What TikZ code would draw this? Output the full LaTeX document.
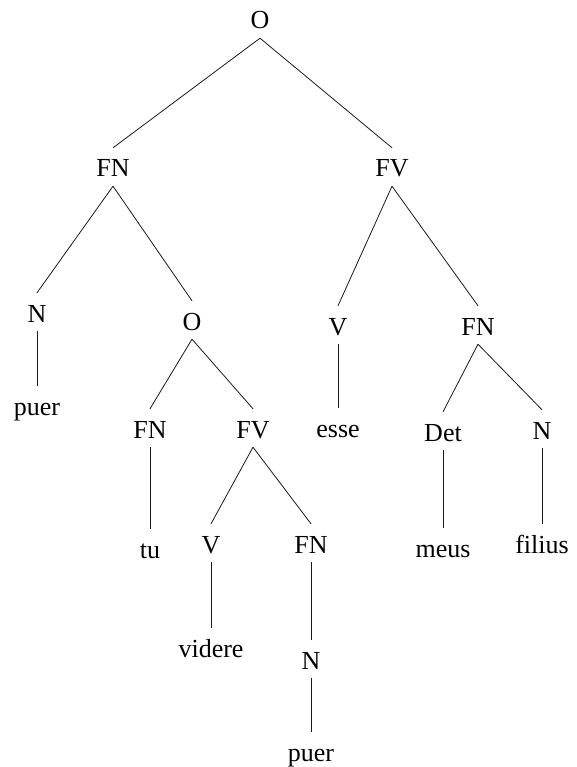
\documentclass[tikz,border=0pt]{standalone}
\usepackage{fontspec}
\setmainfont{Liberation Serif}
\usepackage{tikz}
\definecolor{cEdge}{HTML}{1A1A1A}
\tikzset{
  cat/.style={anchor=base,inner xsep=2pt,inner ysep=9pt,text height=20pt,
      text depth=0pt,font=\fontsize{26}{30}\selectfont,text=black},
  branch/.style={draw=cEdge,line width=0.8pt},
}
\newcommand{\cat}[4]{\node[cat] (#1) at (#2,#3) {#4};}
\newcommand{\br}[2]{\draw[branch] (#1.south) -- (#2.north);}

\begin{document}
\begin{tikzpicture}[x=1pt,y=1pt]
  \useasboundingbox (0,0) rectangle (577,-767);

  \cat{o0}{260}{-29}{O}
  \cat{fnA}{113}{-177}{FN}
  \cat{fvA}{392}{-177}{FV}
  \cat{nA}{37}{-322}{N}
  \cat{oA}{192}{-330}{O}
  \cat{vA}{338}{-335}{V}
  \cat{fnB}{478}{-335}{FN}
  \cat{puerA}{37}{-415}{puer}
  \cat{fnC}{150}{-438}{FN}
  \cat{fvC}{253}{-438}{FV}
  \cat{esse}{338}{-437}{esse}
  \cat{det}{443}{-441}{Det}
  \cat{nB}{542}{-439}{N}
  \cat{tu}{150}{-558}{tu}
  \cat{vB}{211}{-553}{V}
  \cat{fnD}{311}{-553}{FN}
  \cat{meus}{443}{-557}{meus}
  \cat{filius}{542}{-553}{filius}
  \cat{videre}{211}{-657}{videre}
  \cat{nC}{311}{-669}{N}
  \cat{puerB}{311}{-761}{puer}

  % branches, parent first
  \br{o0}{fnA}\br{o0}{fvA}
  \br{fnA}{nA}\br{fnA}{oA}
  \br{fvA}{vA}\br{fvA}{fnB}
  \br{nA}{puerA}
  \br{oA}{fnC}\br{oA}{fvC}
  \br{vA}{esse}
  \br{fnB}{det}\br{fnB}{nB}
  \br{fnC}{tu}
  \br{fvC}{vB}\br{fvC}{fnD}
  \br{det}{meus}
  \br{nB}{filius}
  \br{vB}{videre}
  \br{fnD}{nC}
  \br{nC}{puerB}
\end{tikzpicture}
\end{document}
